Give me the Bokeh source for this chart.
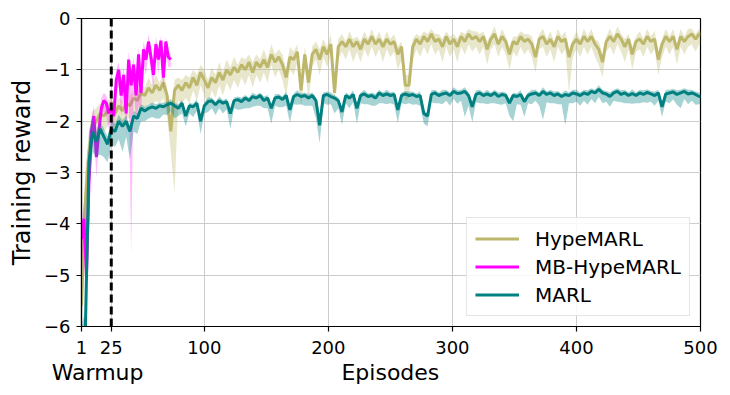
from bokeh.plotting import figure
from bokeh.models import FixedTicker, Span, LinearAxis
from bokeh.embed import file_html
from bokeh.resources import INLINE

# ---------------- data ----------------
episodes = list(range(1, 500, 3)) + [500]

hype_mean = [
    -5.6, -3.6, -2.6, -2.1, -2.0, -1.85, -1.9, -1.8, -1.75, -1.85,
    -1.7, -1.8, -1.65, -1.7, -1.55, -1.6, -1.45, -1.5, -1.35, -1.45,
    -1.3, -1.4, -1.25, -1.5, -2.2, -1.4, -1.3, -1.4, -1.25, -1.35,
    -1.15, -1.3, -1.05, -1.2, -1.35, -1.15, -1.25, -1.05, -1.2, -1.0,
    -1.1, -0.95, -1.05, -0.9, -1.0, -0.85, -1.05, -0.85, -0.95, -0.8,
    -0.95, -0.7, -0.85, -0.75, -0.9, -1.15, -0.75, -0.8, -0.65, -1.4,
    -0.7, -1.25, -0.7, -0.6, -0.8, -0.55, -0.7, -0.5, -1.45, -0.55,
    -0.45, -0.55, -0.4, -0.55, -0.45, -0.6, -0.4, -0.5, -0.35, -0.5,
    -0.4, -0.55, -0.4, -0.5, -0.45, -0.7, -0.55, -1.3, -1.3, -0.55,
    -0.4, -0.5, -0.35, -0.45, -0.3, -0.45, -0.4, -0.55, -0.35, -0.5,
    -0.4, -0.55, -0.35, -0.45, -0.3, -0.4, -0.35, -0.45, -0.35, -0.6,
    -0.4, -0.3, -0.5, -0.35, -0.45, -0.7, -0.45, -0.5, -0.35, -0.45,
    -0.4, -0.5, -0.75, -0.4, -0.35, -0.5, -0.4, -0.55, -0.35, -0.45,
    -0.4, -0.75, -0.5, -0.4, -0.5, -0.35, -0.45, -0.35, -0.5, -0.6,
    -0.85, -0.45, -0.35, -0.45, -0.3, -0.4, -0.55, -0.4, -0.7, -0.45,
    -0.4, -0.5, -0.35, -0.45, -0.4, -0.8, -0.5, -0.35, -0.45, -0.35,
    -0.6, -0.35, -0.45, -0.35, -0.3, -0.4, -0.3, -0.3]
hype_up = [
    0.9, 0.6, 0.4, 0.3, 0.25, 0.2, 0.2, 0.2, 0.2, 0.2,
    0.15, 0.2, 0.15, 0.2, 0.15, 0.2, 0.15, 0.15, 0.2, 0.15,
    0.2, 0.15, 0.2, 0.15, 0.3, 0.2, 0.15, 0.2, 0.15, 0.2,
    0.15, 0.2, 0.15, 0.2, 0.15, 0.2, 0.15, 0.2, 0.15, 0.2,
    0.15, 0.2, 0.15, 0.15, 0.2, 0.15, 0.2, 0.15, 0.15, 0.2,
    0.15, 0.2, 0.15, 0.15, 0.2, 0.15, 0.2, 0.15, 0.15, 0.2,
    0.15, 0.2, 0.15, 0.15, 0.2, 0.15, 0.15, 0.2, 0.15, 0.15,
    0.15, 0.1, 0.15, 0.15, 0.1, 0.15, 0.15, 0.1, 0.15, 0.1,
    0.15, 0.1, 0.15, 0.1, 0.15, 0.15, 0.1, 0.2, 0.2, 0.15,
    0.1, 0.15, 0.1, 0.15, 0.1, 0.15, 0.1, 0.15, 0.1, 0.15,
    0.1, 0.15, 0.1, 0.15, 0.1, 0.15, 0.1, 0.15, 0.1, 0.15,
    0.1, 0.15, 0.1, 0.15, 0.1, 0.15, 0.1, 0.15, 0.1, 0.15,
    0.1, 0.15, 0.15, 0.1, 0.15, 0.1, 0.15, 0.1, 0.15, 0.1,
    0.15, 0.15, 0.1, 0.15, 0.1, 0.15, 0.1, 0.15, 0.1, 0.15,
    0.15, 0.1, 0.15, 0.1, 0.15, 0.1, 0.15, 0.1, 0.15, 0.1,
    0.15, 0.1, 0.15, 0.1, 0.15, 0.15, 0.1, 0.15, 0.1, 0.15,
    0.1, 0.15, 0.1, 0.15, 0.1, 0.1, 0.1, 0.1]
hype_dn = [
    0.4, 0.8, 0.5, 0.4, 0.3, 0.3, 0.3, 0.3, 0.25, 0.3,
    0.3, 0.25, 0.3, 0.25, 0.3, 0.25, 0.3, 0.25, 0.3, 0.25,
    0.3, 0.25, 0.3, 0.4, 0.4, 2.0, 0.3, 0.25, 0.3, 0.3,
    0.25, 0.3, 0.25, 0.3, 0.35, 0.25, 0.3, 0.25, 0.3, 0.25,
    0.3, 0.25, 0.3, 0.25, 0.3, 0.25, 0.3, 0.25, 0.3, 0.25,
    0.3, 0.2, 0.3, 0.25, 0.3, 0.35, 0.25, 0.3, 0.2, 0.35,
    0.25, 0.35, 0.25, 0.2, 0.3, 0.2, 0.25, 0.2, 0.15, 0.25,
    0.2, 0.25, 0.2, 0.3, 0.2, 0.25, 0.2, 0.25, 0.2, 0.25,
    0.2, 0.3, 0.2, 0.25, 0.2, 0.3, 0.25, 0.3, 0.25, 0.25,
    0.2, 0.25, 0.2, 0.25, 0.2, 0.25, 0.2, 0.3, 0.2, 0.25,
    0.2, 0.3, 0.2, 0.25, 0.2, 0.25, 0.2, 0.25, 0.2, 0.3,
    0.2, 0.2, 0.25, 0.2, 0.25, 0.3, 0.2, 0.25, 0.2, 0.25,
    0.2, 0.25, 0.3, 0.2, 0.2, 0.25, 0.2, 0.3, 0.2, 0.25,
    0.2, 0.7, 0.25, 0.2, 0.25, 0.2, 0.25, 0.2, 0.25, 0.3,
    0.3, 0.2, 0.2, 0.25, 0.2, 0.25, 0.3, 0.2, 0.3, 0.2,
    0.2, 0.25, 0.2, 0.25, 0.2, 0.3, 0.25, 0.2, 0.25, 0.2,
    0.3, 0.2, 0.25, 0.2, 0.2, 0.25, 0.2, 0.2]

marl_mean = [
    -6.3, -6.2, -2.8, -2.2, -2.4, -2.15, -2.3, -2.45, -2.15, -2.2,
    -2.0, -2.1, -2.0, -2.2, -1.9, -1.95, -1.75, -1.8, -1.75, -1.72,
    -1.75, -1.7, -1.72, -1.68, -1.65, -1.7, -1.75, -1.65, -1.9, -1.7,
    -1.72, -1.65, -2.0, -1.7, -1.62, -1.6, -1.68, -1.6, -1.65, -1.62,
    -1.85, -1.6, -1.58, -1.62, -1.55, -1.6, -1.52, -1.55, -1.5, -1.6,
    -1.55, -1.75, -1.55, -1.53, -1.58, -1.5, -1.78, -1.52, -1.48, -1.52,
    -1.5, -1.55, -1.5, -1.6, -2.08, -1.5, -1.48, -1.52, -1.55, -1.6,
    -1.82, -1.5, -1.55, -1.48, -1.75, -1.5, -1.47, -1.52, -1.5, -1.55,
    -1.45, -1.5, -1.47, -1.5, -1.48, -1.78, -1.5, -1.47, -1.5, -1.48,
    -1.52, -1.5, -1.85, -1.9, -1.48, -1.45, -1.5, -1.47, -1.45, -1.5,
    -1.42, -1.46, -1.45, -1.42, -1.5, -1.72, -1.48, -1.45, -1.5, -1.47,
    -1.5, -1.45, -1.52, -1.48, -1.5, -1.65, -1.5, -1.52, -1.48, -1.62,
    -1.5, -1.47, -1.45, -1.5, -1.42, -1.48, -1.45, -1.5, -1.47, -1.52,
    -1.48, -1.5, -1.45, -1.47, -1.5, -1.45, -1.48, -1.42, -1.45, -1.38,
    -1.45, -1.47, -1.52, -1.45, -1.42, -1.48, -1.45, -1.5, -1.46, -1.5,
    -1.45, -1.48, -1.44, -1.47, -1.5, -1.45, -1.72, -1.47, -1.45, -1.43,
    -1.48, -1.45, -1.42, -1.47, -1.45, -1.48, -1.52, -1.52]
marl_up = [
    0.3, 0.5, 0.6, 0.3, 0.2, 0.15, 0.15, 0.15, 0.15, 0.15,
    0.12, 0.12, 0.1, 0.1, 0.1, 0.1, 0.08, 0.08, 0.08, 0.08,
    0.08, 0.06, 0.08, 0.06, 0.08, 0.06, 0.08, 0.06, 0.08, 0.06,
    0.06, 0.08, 0.06, 0.06, 0.08, 0.06, 0.06, 0.08, 0.06, 0.06,
    0.08, 0.06, 0.06, 0.08, 0.06, 0.06, 0.08, 0.06, 0.06, 0.08,
    0.06, 0.06, 0.08, 0.06, 0.06, 0.08, 0.06, 0.06, 0.08, 0.06,
    0.06, 0.08, 0.06, 0.06, 0.08, 0.06, 0.06, 0.08, 0.06, 0.06,
    0.08, 0.06, 0.06, 0.08, 0.06, 0.06, 0.08, 0.06, 0.06, 0.08,
    0.06, 0.06, 0.08, 0.06, 0.06, 0.08, 0.06, 0.06, 0.08, 0.06,
    0.06, 0.08, 0.06, 0.06, 0.08, 0.06, 0.06, 0.08, 0.06, 0.06,
    0.08, 0.06, 0.06, 0.08, 0.06, 0.06, 0.08, 0.06, 0.06, 0.08,
    0.06, 0.06, 0.08, 0.06, 0.06, 0.08, 0.06, 0.06, 0.08, 0.06,
    0.06, 0.08, 0.06, 0.06, 0.08, 0.06, 0.06, 0.08, 0.06, 0.06,
    0.08, 0.06, 0.06, 0.08, 0.06, 0.06, 0.08, 0.06, 0.06, 0.08,
    0.06, 0.06, 0.08, 0.06, 0.06, 0.08, 0.06, 0.06, 0.08, 0.06,
    0.06, 0.08, 0.06, 0.06, 0.08, 0.06, 0.06, 0.08, 0.06, 0.06,
    0.08, 0.06, 0.06, 0.08, 0.06, 0.06, 0.08, 0.06]
marl_dn = [
    0.2, 0.2, 0.5, 0.4, 0.3, 0.5, 0.4, 0.35, 0.3, 0.3,
    0.35, 0.5, 0.3, 0.55, 0.3, 0.3, 0.25, 0.2, 0.2, 0.2,
    0.2, 0.25, 0.15, 0.2, 0.15, 0.25, 0.15, 0.2, 0.2, 0.15,
    0.2, 0.15, 0.25, 0.15, 0.2, 0.15, 0.2, 0.15, 0.2, 0.15,
    0.3, 0.15, 0.2, 0.15, 0.2, 0.15, 0.2, 0.15, 0.2, 0.15,
    0.2, 0.3, 0.15, 0.2, 0.15, 0.2, 0.25, 0.15, 0.2, 0.15,
    0.2, 0.15, 0.2, 0.35, 0.35, 0.15, 0.2, 0.15, 0.3, 0.15,
    0.25, 0.15, 0.2, 0.15, 0.3, 0.15, 0.2, 0.15, 0.2, 0.15,
    0.2, 0.15, 0.2, 0.15, 0.2, 0.25, 0.15, 0.2, 0.15, 0.2,
    0.15, 0.2, 0.2, 0.2, 0.15, 0.2, 0.15, 0.2, 0.15, 0.2,
    0.15, 0.2, 0.15, 0.5, 0.2, 0.3, 0.15, 0.2, 0.15, 0.2,
    0.15, 0.2, 0.15, 0.2, 0.15, 0.25, 0.5, 0.15, 0.2, 0.3,
    0.15, 0.2, 0.15, 0.2, 0.55, 0.15, 0.2, 0.15, 0.2, 0.15,
    0.6, 0.15, 0.2, 0.15, 0.2, 0.15, 0.2, 0.15, 0.2, 0.15,
    0.2, 0.15, 0.2, 0.15, 0.2, 0.15, 0.2, 0.15, 0.2, 0.15,
    0.2, 0.15, 0.2, 0.15, 0.2, 0.15, 0.2, 0.15, 0.2, 0.15,
    0.2, 0.3, 0.15, 0.2, 0.15, 0.2, 0.15, 0.15]

mb_episodes = list(range(1, 74, 2))
mb_mean = [-4.3, -3.9, -5.0, -3.2, -2.2, -1.9, -2.7, -2.2, -1.75, -1.6,
           -1.65, -1.85, -1.75, -1.9, -1.2, -1.0, -1.5, -1.1, -1.85, -0.8,
           -1.3, -0.9, -1.5, -0.7, -1.45, -0.6, -0.8, -0.45, -0.75, -1.1,
           -0.5, -0.8, -0.43, -1.15, -0.45, -0.75, -0.8]
mb_up = [0.3, 0.3, 0.3, 0.3, 0.25, 0.2, 0.2, 0.2, 0.2, 0.15,
         0.15, 0.15, 0.2, 0.15, 0.2, 0.15, 0.2, 0.15, 0.2, 0.15,
         0.2, 0.15, 0.2, 0.15, 0.2, 0.15, 0.15, 0.15, 0.15, 0.2,
         0.15, 0.15, 0.1, 0.15, 0.1, 0.1, 0.1]
mb_dn = [0.5, 0.4, 0.3, 0.5, 0.4, 0.3, 0.4, 0.3, 0.2, 0.2,
         0.25, 0.3, 0.3, 0.3, 0.3, 0.3, 0.4, 0.3, 0.4, 0.4,
         3.3, 0.4, 0.5, 1.0, 0.4, 0.3, 0.3, 0.2, 0.3, 0.3,
         0.2, 0.3, 0.2, 0.3, 0.2, 0.2, 0.15]

x_ticks = [1, 25, 100, 200, 300, 400, 500]
y_ticks = [-6, -5, -4, -3, -2, -1, 0]
warmup_end = 25

C_HYPE = "#BDB76B"
C_MB = "#FF00FF"
C_MARL = "#008080"
FONT = "DejaVu Sans"

# ---------------- figure ----------------
p = figure(width=722, height=392,
           x_range=(1, 500), y_range=(-6, 0),
           output_backend="svg", toolbar_location=None,
           min_border_left=81, min_border_right=22,
           min_border_top=18, min_border_bottom=66,
           background_fill_color="white", border_fill_color="white")

def band(x, m, up, dn, color, alpha, label):
    lo = [a - b for a, b in zip(m, dn)]
    hi = [a + b for a, b in zip(m, up)]
    p.varea(x=x, y1=lo, y2=hi, fill_color=color, fill_alpha=alpha)
    p.line(x, m, line_color=color, line_width=3, legend_label=label)

band(episodes, hype_mean, hype_up, hype_dn, C_HYPE, 0.35, "HypeMARL")
band(mb_episodes, mb_mean, mb_up, mb_dn, C_MB, 0.25, "MB-HypeMARL")
band(episodes, marl_mean, marl_up, marl_dn, C_MARL, 0.35, "MARL")

p.add_layout(Span(location=warmup_end, dimension="height", line_color="black",
                  line_width=3, line_dash="8 4"))

# axes
xax = p.xaxis[0]
yax = p.yaxis[0]
xax.ticker = FixedTicker(ticks=x_ticks)
yax.ticker = FixedTicker(ticks=y_ticks)
yax.major_label_overrides = {t: ("\u2212%d" % -t if t < 0 else str(t)) for t in y_ticks}
yax.axis_label = "Training reward"
for ax in (xax, yax):
    ax.axis_line_color = "black"
    ax.axis_line_width = 1.2
    ax.major_tick_line_color = "black"
    ax.major_tick_line_width = 1.2
    ax.major_tick_out = 5
    ax.major_tick_in = 0
    ax.minor_tick_line_color = None
    ax.major_label_text_font = FONT
    ax.major_label_text_font_size = "18px"
    ax.major_label_text_color = "black"
    ax.axis_label_text_font = FONT
    ax.axis_label_text_font_size = "24px"
    ax.axis_label_text_font_style = "normal"
    ax.axis_label_text_color = "black"
xax.major_label_standoff = 9
yax.major_label_standoff = 6
yax.axis_label_standoff = 5

# second row under the tick labels: "Warmup" and the axis title
label_axis = LinearAxis(ticker=FixedTicker(ticks=[14, 250]),
                        major_label_overrides={14: "Warmup", 250: "Episodes"},
                        axis_line_color=None, major_tick_line_color=None,
                        minor_tick_line_color=None, major_tick_out=0, major_tick_in=0,
                        major_label_standoff=3, major_label_text_font=FONT,
                        major_label_text_font_size="22px", major_label_text_color="black")
p.add_layout(label_axis, "below")

p.xgrid.ticker = FixedTicker(ticks=x_ticks)
p.grid.grid_line_color = "#cccccc"
p.grid.grid_line_width = 1
p.outline_line_color = "black"
p.outline_line_width = 1.2

lg = p.legend[0]
lg.location = "bottom_right"
lg.margin = 10
lg.padding = 8
lg.spacing = 3
lg.glyph_width = 44
lg.glyph_height = 25
lg.label_height = 25
lg.label_standoff = 16
lg.label_text_font = FONT
lg.label_text_font_size = "20px"
lg.label_text_color = "black"
lg.border_line_color = "#cccccc"
lg.border_line_width = 1
lg.background_fill_alpha = 0.85

open("out.html", "w").write(file_html(p, INLINE))
